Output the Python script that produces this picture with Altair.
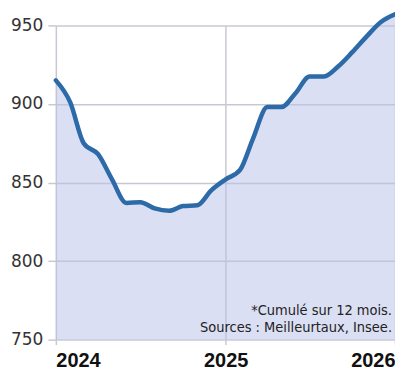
import altair as alt
import pandas as pd

months = [
    "2024-01-01", "2024-02-01", "2024-03-01", "2024-04-01", "2024-05-01", "2024-06-01",
    "2024-07-01", "2024-08-01", "2024-09-01", "2024-10-01", "2024-11-01", "2024-12-01",
    "2025-01-01", "2025-02-01", "2025-03-01", "2025-04-01", "2025-05-01", "2025-06-01",
    "2025-07-01", "2025-08-01", "2025-09-01", "2025-10-01", "2025-11-01", "2025-12-01",
    "2026-01-01",
]
values = [
    915, 901, 875, 868, 852, 837,
    837.5, 833.5, 832, 835, 835.5, 845,
    852, 858, 878, 898, 898, 907,
    917.5, 917.5, 924, 933, 943, 952,
    957,
]
y_ticks = [750, 800, 850, 900, 950]
y_base = 750
note_lines = "*Cumulé sur 12 mois.\nSources : Meilleurtaux, Insee."

df = pd.DataFrame({"date": months, "value": values})

x_dom = [alt.DateTime(year=2024, month=1, date=1, utc=True),
         alt.DateTime(year=2026, month=1, date=1, utc=True)]
x_ticks = [alt.DateTime(year=y, month=1, date=1, utc=True) for y in (2024, 2025, 2026)]

x_enc = alt.X(
    "date:T",
    scale=alt.Scale(type="utc", domain=x_dom),
    axis=alt.Axis(
        values=x_ticks, format="%Y", title=None, labelFlush=True,
        labelFont="Liberation Sans", labelFontWeight="bold", labelFontSize=20,
        labelColor="#111111", labelPadding=6, tickSize=5, tickColor="#c8c8d2",
        tickWidth=1.5, domain=False, grid=True, gridColor="#c8c8d2", gridWidth=1.5,
    ),
)
y_enc = alt.Y(
    "value:Q",
    scale=alt.Scale(domain=[750, 950], nice=False, zero=False),
    axis=alt.Axis(
        values=y_ticks, title=None, labelFont="DejaVu Sans", labelFontSize=17,
        labelColor="#333333", labelPadding=5, tickSize=8, tickColor="#c8c8d2",
        tickWidth=1.5, domain=False, grid=True, gridColor="#c8c8d2", gridWidth=1.5,
    ),
)

base = alt.Chart(df)
area = base.mark_area(color="#b8bfe8", opacity=0.5, interpolate="monotone", clip=False).encode(
    x=x_enc, y=y_enc, y2=alt.datum(y_base)
)
line = base.mark_line(color="#2c6aa8", strokeWidth=4.5, interpolate="monotone",
                      strokeCap="round", clip=False).encode(x="date:T", y="value:Q")
note = alt.Chart(pd.DataFrame({"t": [note_lines]})).mark_text(
    align="right", baseline="alphabetic",
    font="DejaVu Sans Condensed, Roboto Condensed, Liberation Sans Narrow, Roboto",
    fontSize=14.5, lineBreak="\n", lineHeight=17, color="#222222",
).encode(x=alt.value(337), y=alt.value(290), text="t:N")

chart = alt.layer(area, line, note).properties(
    width=340, height=315,
    padding={"left": 56, "top": 25, "right": 0, "bottom": 34},
    autosize="none",
).configure_view(stroke=None)

chart.save("out.html", embed_options={"renderer": "svg", "actions": False})
